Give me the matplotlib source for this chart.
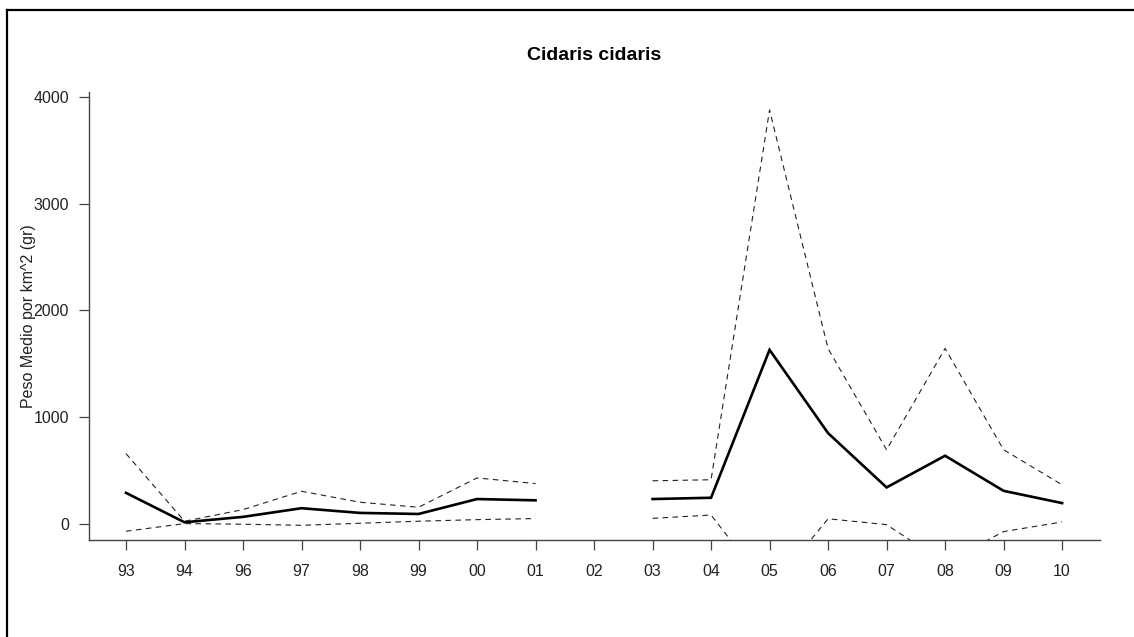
import numpy as np
import matplotlib
matplotlib.use("Agg")
import matplotlib.pyplot as plt
from matplotlib.lines import Line2D

plt.rcParams["font.family"] = ["Liberation Sans", "DejaVu Sans"]

# campañas (el 02 sin datos)
anios = ["93", "94", "96", "97", "98", "99", "00", "01", "02",
         "03", "04", "05", "06", "07", "08", "09", "10"]
media = [288, 12, 63, 144, 100, 90, 230, 218, np.nan,
         230, 242, 1629, 848, 339, 636, 307, 192]
sup = [656, 22, 131, 303, 200, 153, 428, 375, np.nan,
       401, 411, 3878, 1640, 692, 1642, 692, 364]
inf = [-72, 0, -6, -16, 3, 22, 37, 47, np.nan,
       49, 80, -625, 45, -10, -370, -75, 15]

x = np.arange(len(anios))
ymax = 3890

fig = plt.figure(figsize=(11.34, 6.37), dpi=100)
ax = fig.add_axes([0.0781, 0.152, 0.8915, 0.7035])

ax.plot(x, media, color="black", lw=1.9, solid_joinstyle="miter")
ax.plot(x, sup, color="#222222", lw=0.8, linestyle=(0, (5, 4)))
ax.plot(x, inf, color="#222222", lw=0.8, linestyle=(0, (5, 4)))

ax.set_xlim(-0.04 * (len(x) - 1), (len(x) - 1) * 1.04)
ax.set_ylim(-0.04 * ymax, ymax * 1.04)
ax.set_xticks(x)
ax.set_xticklabels(anios)
ax.set_yticks([0, 1000, 2000, 3000, 4000])

for s in ["top", "right"]:
    ax.spines[s].set_visible(False)
for s in ["left", "bottom"]:
    ax.spines[s].set_color("#444444")
    ax.spines[s].set_linewidth(1.0)
ax.tick_params(axis="both", length=7, width=0.9, color="#444444",
               labelsize=11.5, labelcolor="#222222")
ax.tick_params(axis="x", pad=10)
ax.tick_params(axis="y", pad=7)

ax.set_title("Cidaris cidaris", fontsize=14, fontweight="bold", pad=23)
ax.set_ylabel("Peso Medio por km^2 (gr)", fontsize=11.5, color="#222222")
ax.yaxis.set_label_coords(-0.052, 0.5)

# marco de la captura (solo izquierda y arriba)
fig.add_artist(Line2D([0.0062, 0.0062], [0, 0.984], transform=fig.transFigure,
                      color="black", lw=1.6))
fig.add_artist(Line2D([0.0062, 1.0], [0.984, 0.984], transform=fig.transFigure,
                      color="black", lw=1.6))

plt.savefig("out.png", dpi=100)
plt.close()
